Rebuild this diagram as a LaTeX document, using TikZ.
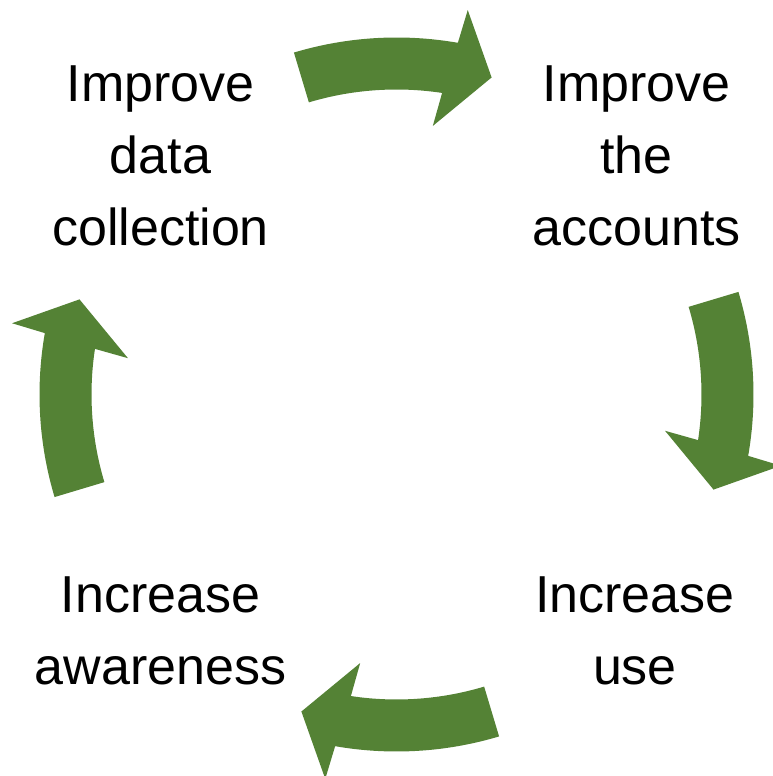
\documentclass[tikz,border=0pt]{standalone}
\usepackage{fontspec}
\setmainfont{Liberation Sans}
\definecolor{arrowgreen}{HTML}{548235}
\begin{document}
\begin{tikzpicture}[x=1pt,y=1pt,
  cyclelabel/.style={font=\fontsize{52}{72}\selectfont, align=center, inner sep=0pt, anchor=north},
  cyclearrow/.style={fill=arrowgreen, draw=none}]
\useasboundingbox (0,0) rectangle (773,776);
\clip (0,0) rectangle (773,776);
\coordinate (ctr) at (396.5,381.5);
\foreach \k in {0,1,2,3} {
  \begin{scope}[shift={(ctr)}, rotate=-90*\k]
    \fill[cyclearrow] (106.7:357) arc[start angle=106.7, end angle=80.1, radius=357]
      -- (79.5:391) -- (73.3:331) -- (82.3:271) -- (81.4:305)
      arc[start angle=81.4, end angle=106.7, radius=305] -- cycle;
  \end{scope}
}
\node[cyclelabel] (collect) at (160.5,710) {Improve\\data\\collection};
\node[cyclelabel] (accounts) at (636.5,710) {Improve\\the\\accounts};
\node[cyclelabel] (use) at (635,199) {Increase\\use};
\node[cyclelabel] (aware) at (160.5,199) {Increase\\awareness};
\end{tikzpicture}
\end{document}
